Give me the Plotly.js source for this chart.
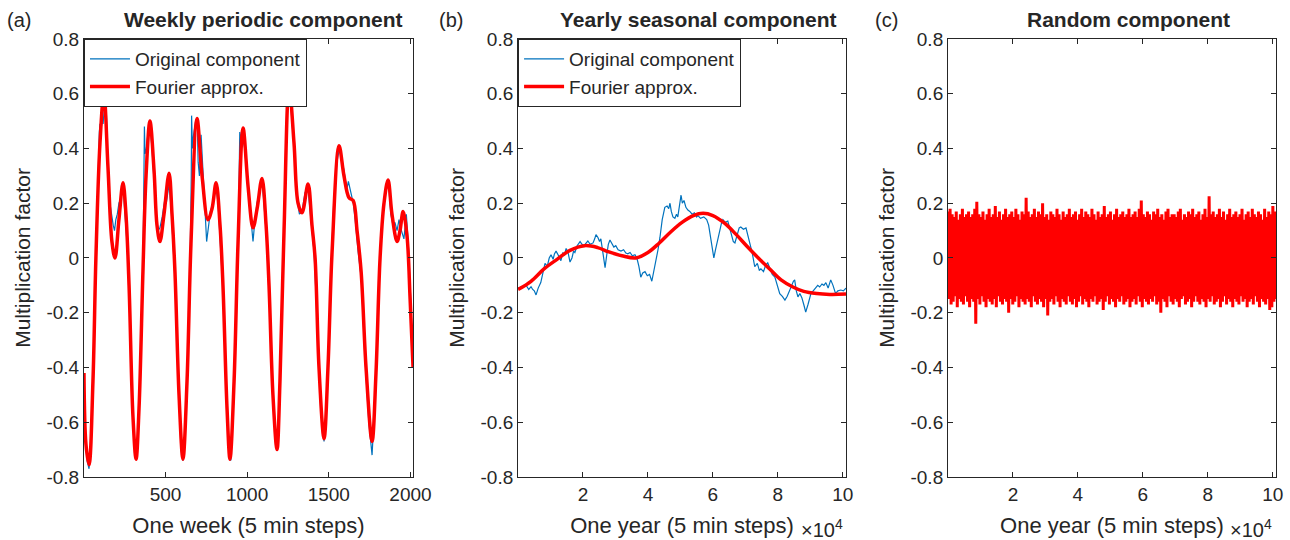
<!DOCTYPE html>
<html><head><meta charset="utf-8">
<script src="https://cdn.plot.ly/plotly-3.0.1.min.js"></script>
<style>html,body{margin:0;padding:0;background:#fff}#chart{width:1290px;height:540px}</style>
</head><body><div id="chart"></div>
<script>
// ---------- Data ----------
const weekFourierX = [1,13,32,56,74,99,123,148,172,191,215,240,258,277,301,320,338,362,381,405,430,448,466,491,522,540,558,583,607,632,656,693,724,760,785,810,834,852,877,895,920,944,975,1006,1036,1061,1091,1116,1134,1158,1183,1201,1226,1257,1287,1312,1336,1373,1397,1416,1440,1471,1495,1520,1563,1593,1624,1649,1673,1698,1728,1765,1789,1814,1838,1863,1887,1918,1936,1955,1979,1998,2016];
const weekFourier = [-0.42,-0.68,-0.755,-0.45,0.0,0.42,0.60,0.33,0.06,0.0,0.14,0.275,0.16,-0.10,-0.58,-0.735,-0.55,-0.05,0.30,0.50,0.32,0.12,0.06,0.16,0.31,0.16,-0.05,-0.50,-0.735,-0.45,0.05,0.51,0.30,0.14,0.18,0.275,0.12,-0.10,-0.55,-0.735,-0.45,0.05,0.475,0.26,0.11,0.18,0.29,0.12,-0.10,-0.50,-0.70,-0.45,0.10,0.63,0.42,0.20,0.165,0.27,0.12,0.0,-0.40,-0.66,-0.40,0.02,0.41,0.30,0.22,0.21,0.10,-0.05,-0.40,-0.67,-0.42,0.0,0.20,0.285,0.16,0.06,0.10,0.17,0.08,-0.15,-0.40];

const weekOrigX = [1,10,20,32,44,56,66,74,86,95,99,105,112,118,130,137,145,160,180,188,196,205,215,228,240,252,265,277,290,301,315,326,338,350,362,368,371,375,383,395,405,418,428,440,455,466,480,495,505,522,535,548,558,575,595,607,620,640,650,658,660,665,672,685,695,700,708,718,725,740,752,760,775,790,810,822,840,855,875,890,900,915,930,945,955,960,970,985,995,1010,1030,1036,1045,1060,1075,1091,1100,1116,1134,1158,1175,1185,1195,1210,1225,1240,1250,1262,1275,1290,1305,1320,1336,1355,1373,1390,1410,1430,1450,1471,1490,1510,1530,1550,1565,1580,1593,1610,1620,1635,1650,1665,1680,1700,1720,1745,1765,1780,1800,1814,1835,1855,1870,1880,1893,1905,1918,1930,1945,1960,1975,1990,2005,2016];
const weekOrig = [-0.42,-0.65,-0.74,-0.77,-0.66,-0.45,-0.2,0.0,0.3,0.46,0.49,0.47,0.50,0.49,0.58,0.55,0.40,0.20,0.12,0.10,0.14,0.16,0.20,0.22,0.26,0.17,0.05,-0.12,-0.40,-0.60,-0.73,-0.72,-0.55,-0.30,-0.05,0.30,0.48,0.38,0.40,0.47,0.48,0.40,0.30,0.18,0.10,0.11,0.15,0.21,0.20,0.27,0.18,0.05,-0.08,-0.40,-0.70,-0.74,-0.65,-0.30,-0.05,0.30,0.52,0.40,0.45,0.50,0.48,0.35,0.30,0.45,0.35,0.20,0.06,0.10,0.17,0.20,0.26,0.20,0.02,-0.15,-0.55,-0.73,-0.74,-0.55,-0.25,0.05,0.46,0.44,0.46,0.40,0.33,0.22,0.10,0.06,0.12,0.20,0.24,0.28,0.22,0.10,-0.12,-0.50,-0.69,-0.70,-0.60,-0.25,0.10,0.48,0.60,0.62,0.49,0.40,0.22,0.16,0.17,0.24,0.25,0.14,0.02,-0.25,-0.55,-0.67,-0.50,-0.10,0.20,0.35,0.40,0.36,0.32,0.25,0.28,0.24,0.20,0.12,0.02,-0.08,-0.35,-0.60,-0.72,-0.55,-0.20,0.0,0.20,0.28,0.24,0.16,0.12,0.13,0.10,0.14,0.10,0.07,0.16,0.02,-0.20,-0.40];

const yearFourierX = [1,4000,8000,12000,16000,20500,24500,28000,32000,36300,40000,43500,47000,50500,54000,57000,60000,63500,67000,70500,74000,77500,81000,84500,88000,92000,96000,101000];
const yearFourier = [-0.115,-0.085,-0.04,-0.005,0.028,0.045,0.038,0.022,0.008,0.0,0.02,0.055,0.095,0.13,0.155,0.163,0.155,0.128,0.088,0.043,0.0,-0.04,-0.08,-0.105,-0.122,-0.13,-0.133,-0.132];

const yearOrigX = [1,1500,2500,3300,4000,4500,5000,5540,6200,7000,7600,8300,9000,9600,10150,10800,11200,11700,12400,13200,13800,14300,14800,15400,16000,16600,17100,17500,18200,19100,19700,20300,21000,21500,22200,23100,23600,24000,24600,25100,25500,26000,26500,26800,27300,27800,28300,28900,29500,30100,30800,31700,32500,33200,33800,34500,35200,36000,36600,37200,37800,38400,39100,39800,40500,41200,41800,42500,43100,43700,44400,45200,45900,46400,46800,47200,47700,48300,48800,49200,49700,50200,50600,51100,51700,52300,52900,53600,54300,55000,55400,56200,57200,58100,58700,59100,59600,60000,60300,60800,61500,62200,62700,63100,63800,64600,65200,65800,66300,66800,67500,68100,68600,69400,70200,70800,71400,72100,72900,73700,74300,74800,75600,76300,76900,77600,78300,79100,79800,80600,81400,82200,82900,83700,84300,84800,85200,85700,86200,86800,87400,88000,88600,89300,90200,90900,91600,92300,92900,93600,94200,94800,95500,96300,97000,97800,98500,99400,100200,101000];
const yearOrig = [-0.11,-0.105,-0.10,-0.115,-0.105,-0.115,-0.12,-0.135,-0.11,-0.09,-0.06,-0.02,-0.03,0.0,0.012,-0.005,0.015,0.025,0.01,-0.01,0.02,0.01,0.035,0.02,-0.015,0.0,0.025,0.02,0.045,0.06,0.05,0.045,0.055,0.062,0.05,0.055,0.07,0.085,0.075,0.06,0.07,0.03,-0.01,-0.035,0.01,0.05,0.066,0.05,0.04,0.045,0.03,0.025,0.03,0.018,0.015,0.02,0.008,0.012,0.0,-0.03,-0.07,-0.055,-0.05,-0.065,-0.06,-0.085,-0.05,-0.01,0.03,0.075,0.14,0.185,0.19,0.18,0.20,0.17,0.15,0.145,0.16,0.15,0.19,0.23,0.20,0.21,0.185,0.175,0.17,0.16,0.165,0.15,0.155,0.145,0.15,0.14,0.12,0.09,0.05,0.01,0.0,0.03,0.07,0.10,0.13,0.14,0.13,0.135,0.11,0.09,0.06,0.055,0.09,0.11,0.113,0.105,0.11,0.08,0.055,0.02,-0.032,-0.02,-0.045,-0.04,-0.05,-0.025,-0.018,-0.04,-0.06,-0.07,-0.10,-0.13,-0.14,-0.154,-0.14,-0.12,-0.10,-0.085,-0.08,-0.12,-0.142,-0.13,-0.145,-0.17,-0.198,-0.17,-0.13,-0.12,-0.11,-0.10,-0.106,-0.095,-0.10,-0.09,-0.11,-0.08,-0.10,-0.13,-0.12,-0.117,-0.12,-0.11];

const randomTop = [0.17,0.18,0.16,0.15,0.17,0.14,0.16,0.18,0.15,0.16,
0.17,0.15,0.16,0.18,0.205,0.16,0.15,0.17,0.14,0.16,
0.18,0.15,0.16,0.19,0.15,0.17,0.14,0.16,0.18,0.15,
0.16,0.17,0.15,0.18,0.16,0.14,0.17,0.16,0.22,0.17,
0.15,0.16,0.18,0.15,0.17,0.16,0.20,0.15,0.16,0.14,
0.17,0.16,0.15,0.18,0.16,0.14,0.17,0.15,0.16,0.18,
0.15,0.16,0.17,0.14,0.16,0.18,0.15,0.17,0.16,0.15,
0.18,0.16,0.14,0.17,0.15,0.16,0.19,0.15,0.16,0.17,
0.14,0.16,0.18,0.15,0.16,0.17,0.15,0.16,0.18,0.15,
0.16,0.17,0.15,0.18,0.21,0.16,0.15,0.17,0.16,0.14,
0.17,0.16,0.18,0.15,0.16,0.14,0.17,0.18,0.15,0.16,
0.16,0.15,0.17,0.18,0.14,0.16,0.15,0.17,0.16,0.18,
0.15,0.16,0.17,0.14,0.16,0.18,0.15,0.225,0.16,0.17,
0.15,0.16,0.18,0.15,0.17,0.14,0.16,0.18,0.15,0.16,
0.17,0.15,0.16,0.18,0.14,0.16,0.17,0.15,0.18,0.16,
0.15,0.17,0.16,0.14,0.18,0.15,0.17,0.16,0.19,0.17];
const randomBottom = [-0.15,-0.17,-0.16,-0.14,-0.18,-0.15,-0.16,-0.17,-0.14,-0.16,
-0.18,-0.15,-0.16,-0.24,-0.15,-0.17,-0.14,-0.16,-0.18,-0.15,
-0.16,-0.17,-0.15,-0.18,-0.14,-0.16,-0.17,-0.15,-0.16,-0.20,
-0.15,-0.17,-0.16,-0.14,-0.18,-0.15,-0.16,-0.17,-0.15,-0.16,
-0.18,-0.14,-0.16,-0.17,-0.15,-0.16,-0.18,-0.15,-0.21,-0.16,
-0.15,-0.17,-0.14,-0.16,-0.18,-0.15,-0.16,-0.17,-0.14,-0.16,
-0.17,-0.15,-0.18,-0.16,-0.14,-0.17,-0.15,-0.16,-0.18,-0.15,
-0.16,-0.14,-0.17,-0.16,-0.15,-0.19,-0.16,-0.14,-0.17,-0.15,
-0.16,-0.18,-0.15,-0.16,-0.14,-0.17,-0.16,-0.15,-0.18,-0.16,
-0.15,-0.17,-0.14,-0.16,-0.18,-0.15,-0.16,-0.17,-0.15,-0.16,
-0.14,-0.17,-0.16,-0.20,-0.15,-0.16,-0.18,-0.14,-0.16,-0.17,
-0.15,-0.16,-0.18,-0.15,-0.14,-0.17,-0.16,-0.15,-0.18,-0.16,
-0.14,-0.16,-0.17,-0.15,-0.16,-0.18,-0.15,-0.16,-0.14,-0.17,
-0.16,-0.15,-0.18,-0.16,-0.14,-0.17,-0.15,-0.16,-0.18,-0.15,
-0.16,-0.17,-0.14,-0.16,-0.15,-0.18,-0.16,-0.15,-0.17,-0.14,
-0.16,-0.18,-0.15,-0.16,-0.17,-0.15,-0.19,-0.18,-0.16,-0.15];
const randomFirstStep = 1;
const randomLastStep = 101000;

const yTickVals = [-0.8,-0.6,-0.4,-0.2,0,0.2,0.4,0.6,0.8];
const yTickText = ['-0.8','-0.6','-0.4','-0.2','0','0.2','0.4','0.6','0.8'];
const weekTickVals = [500,1000,1500,2000];
const weekTickText = ['500','1000','1500','2000'];
const yearTickVals = [20000,40000,60000,80000,100000];
const yearTickText = ['2','4','6','8','10'];

// ---------- Build random series (alternating extremes) ----------
const randomY = [];
for (let i = 0; i < randomTop.length; i++) { randomY.push(randomTop[i]); randomY.push(randomBottom[i]); }
const randomX = randomY.map((_, i) => randomFirstStep + i * (randomLastStep - randomFirstStep) / (randomY.length - 1));

// ---------- Style ----------
const FONT = 'Liberation Sans, Arial, Helvetica, sans-serif';
const INK = '#262626';
const BLUE = '#0072BD';
const RED = '#FF0000';
const YDOM = [0.1167, 0.9278];

function xAxis(domain, range, tv, tt, title) {
  return {domain: domain, range: range, tickvals: tv, ticktext: tt, ticks: 'inside', ticklen: 5,
    tickcolor: INK, showline: true, linecolor: INK, linewidth: 1, mirror: 'ticks', showgrid: false,
    zeroline: false, tickfont: {family: FONT, size: 19, color: INK},
    title: {text: title, font: {family: FONT, size: 22, color: INK}, standoff: 13}, fixedrange: true};
}
function yAxis(anchor) {
  return {domain: YDOM, range: [-0.8, 0.8], anchor: anchor, tickvals: yTickVals, ticktext: yTickText,
    ticks: 'inside', ticklen: 5, tickcolor: INK, showline: true, linecolor: INK, linewidth: 1,
    mirror: 'ticks', showgrid: false, zeroline: false, tickfont: {family: FONT, size: 19, color: INK},
    title: {text: 'Multiplication factor', font: {family: FONT, size: 21, color: INK}, standoff: 10},
    fixedrange: true};
}

const traces = [
  {x: weekOrigX, y: weekOrig, xaxis: 'x', yaxis: 'y', type: 'scatter', mode: 'lines', name: 'Original component',
   line: {color: BLUE, width: 1.2}, legend: 'legend'},
  {x: weekFourierX, y: weekFourier, xaxis: 'x', yaxis: 'y', type: 'scatter', mode: 'lines', name: 'Fourier approx.',
   line: {color: RED, width: 3.5, shape: 'spline', smoothing: 1}, legend: 'legend'},
  {x: yearOrigX, y: yearOrig, xaxis: 'x2', yaxis: 'y2', type: 'scatter', mode: 'lines', name: 'Original component',
   line: {color: BLUE, width: 1.2}, legend: 'legend2'},
  {x: yearFourierX, y: yearFourier, xaxis: 'x2', yaxis: 'y2', type: 'scatter', mode: 'lines', name: 'Fourier approx.',
   line: {color: RED, width: 3.5, shape: 'spline', smoothing: 1}, legend: 'legend2'},
  {x: randomX, y: randomY, xaxis: 'x3', yaxis: 'y3', type: 'scatter', mode: 'lines', name: 'Random',
   line: {color: RED, width: 3}, showlegend: false}
];

const legendBase = {xanchor: 'left', yanchor: 'top', bgcolor: '#fff', bordercolor: INK, borderwidth: 1,
  font: {family: FONT, size: 19, color: INK}, tracegroupgap: 0, itemwidth: 40};

const ann = (text, xp, yp, opts) => Object.assign({text: text, x: xp, y: yp, xref: 'paper', yref: 'paper',
  showarrow: false, xanchor: 'center', yanchor: 'middle', font: {family: FONT, size: 21, color: INK}}, opts || {});

const layout = {
  width: 1290, height: 540, margin: {l: 0, r: 0, t: 0, b: 0}, paper_bgcolor: '#fff', plot_bgcolor: '#fff',
  showlegend: true,
  xaxis: xAxis([0.0651, 0.3202], [1, 2016], weekTickVals, weekTickText, 'One week (5 min steps)'),
  yaxis: yAxis('x'),
  xaxis2: xAxis([0.4016, 0.6558], [1, 101000], yearTickVals, yearTickText, 'One year (5 min steps)'),
  yaxis2: yAxis('x2'),
  xaxis3: xAxis([0.7349, 0.9891], [1, 101000], yearTickVals, yearTickText, 'One year (5 min steps)'),
  yaxis3: yAxis('x3'),
  legend: Object.assign({x: 0.0651, y: 0.9278}, legendBase),
  legend2: Object.assign({x: 0.4016, y: 0.9278}, legendBase),
  annotations: [
    ann('<b>Weekly periodic component</b>', 263/1290, 1 - 20/540),
    ann('<b>Yearly seasonal component</b>', 698/1290, 1 - 20/540),
    ann('<b>Random component</b>', 1128/1290, 1 - 20/540),
    ann('(a)', 19/1290, 1 - 20/540, {font: {family: FONT, size: 20, color: INK}}),
    ann('(b)', 451/1290, 1 - 20/540, {font: {family: FONT, size: 20, color: INK}}),
    ann('(c)', 887/1290, 1 - 20/540, {font: {family: FONT, size: 20, color: INK}}),
    ann('\u00d710<sup>4</sup>', 822/1290, 1 - 528/540, {font: {family: FONT, size: 20, color: INK}}),
    ann('\u00d710<sup>4</sup>', 1251/1290, 1 - 528/540, {font: {family: FONT, size: 20, color: INK}})
  ]
};

Plotly.newPlot('chart', traces, layout, {staticPlot: true, displayModeBar: false});
</script></body></html>
